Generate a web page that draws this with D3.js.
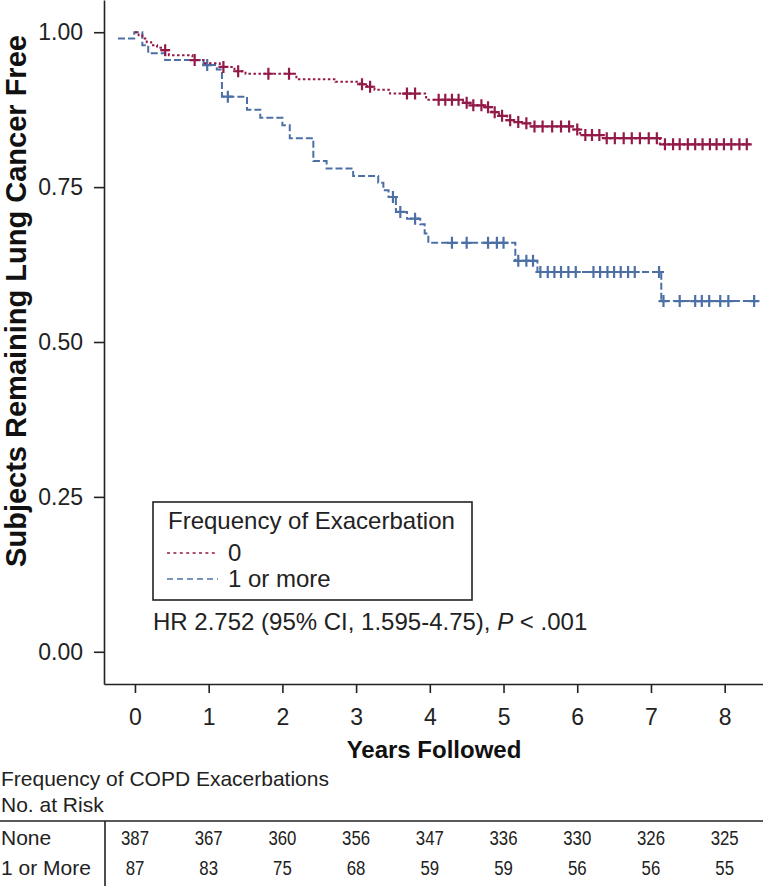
<!DOCTYPE html>
<html>
<head>
<meta charset="utf-8">
<script src="https://cdn.jsdelivr.net/npm/d3@7"></script>
<style>
  body { margin: 0; background: #fff; }
  svg { display: block; font-family: "Liberation Sans", Arial, Helvetica, sans-serif; }
</style>
</head>
<body>
<svg id="chart"></svg>
<script>
// tick values
const yearTicks = [0, 1, 2, 3, 4, 5, 6, 7, 8];
const survTicks = [0, 0.25, 0.5, 0.75, 1];

// "0" exacerbations: step points [time, survival], last value runs to noneEnd
const noneSteps = [
  [0, 1.0], [0.05, 0.995], [0.1, 0.99], [0.16, 0.984], [0.22, 0.979], [0.3, 0.975],
  [0.37, 0.971], [0.46, 0.963], [0.78, 0.955], [0.95, 0.95], [1.15, 0.944], [1.35, 0.937],
  [1.5, 0.933], [2.19, 0.924], [2.72, 0.92], [3.05, 0.916], [3.15, 0.912], [3.25, 0.907],
  [3.46, 0.901], [3.95, 0.891], [4.45, 0.886], [4.55, 0.882], [4.75, 0.879], [4.84, 0.871],
  [4.94, 0.865], [5.05, 0.858], [5.16, 0.855], [5.27, 0.853], [5.36, 0.848], [5.95, 0.843],
  [6.04, 0.834], [6.36, 0.829], [7.12, 0.819]
];
const noneEnd = 8.35;
const noneCensor = [0.41, 0.81, 1.2, 1.4, 1.81, 2.09, 3.08, 3.19, 3.69, 3.8, 4.12, 4.21, 4.3, 4.39,
  4.5, 4.59, 4.7, 4.79, 4.88, 4.98, 5.09, 5.2, 5.31, 5.42, 5.53, 5.66, 5.78, 5.89, 6.0, 6.11, 6.2,
  6.3, 6.4, 6.51, 6.63, 6.74, 6.85, 6.97, 7.08, 7.19, 7.3, 7.39, 7.5, 7.6, 7.7, 7.8, 7.89, 7.99,
  8.09, 8.2, 8.3];

// "1 or more" exacerbations
const moreSteps = [
  [-0.23, 0.99], [-0.01, 1.0], [0.1, 0.979], [0.18, 0.966], [0.41, 0.955], [0.93, 0.947],
  [1.11, 0.94], [1.18, 0.896], [1.52, 0.875], [1.7, 0.862], [2.0, 0.85], [2.1, 0.829],
  [2.42, 0.792], [2.6, 0.78], [2.96, 0.768], [3.3, 0.757], [3.37, 0.745], [3.44, 0.734],
  [3.54, 0.71], [3.69, 0.699], [3.87, 0.69], [3.93, 0.675], [3.98, 0.66], [5.16, 0.631],
  [5.46, 0.613], [7.14, 0.566]
];
const moreEnd = 8.47;
const moreCensor = [0.98, 1.26, 3.5, 3.6, 3.8, 4.3, 4.5, 4.79, 4.91, 5.0, 5.2, 5.31, 5.4, 5.5,
  5.6, 5.69, 5.78, 5.88, 5.98, 6.22, 6.31, 6.41, 6.5, 6.59, 6.69, 6.78, 7.11, 7.17, 7.39, 7.6,
  7.69, 7.79, 7.94, 8.05, 8.4];

// number at risk
const riskGroups = ["None", "1 or More"];
const riskNone = [387, 367, 360, 356, 347, 336, 330, 326, 325];
const riskMore = [87, 83, 75, 68, 59, 59, 56, 56, 55];

const width = 763, height = 886;
const red = "#931a48", blue = "#4c70a6", ink = "#222";

const svg = d3.select("#chart").attr("width", width).attr("height", height);

const x = d3.scaleLinear([-0.42, 8.52], [104, 763]);
const y = d3.scaleLinear([-0.052, 1.052], [684, 0]);

// axes
svg.append("g")
    .attr("transform", "translate(104,0)")
    .call(d3.axisLeft(y).tickValues(survTicks).tickFormat(d3.format(".2f"))
      .tickSize(10).tickSizeOuter(0).tickPadding(11))
    .call(g => g.selectAll("path,line").attr("stroke", ink).attr("stroke-width", 1.6))
    .call(g => g.selectAll("text").attr("font-size", 23).attr("fill", ink).attr("font-family", null));

svg.append("g")
    .attr("transform", "translate(0,684)")
    .call(d3.axisBottom(x).tickValues(yearTicks).tickFormat(d3.format("d"))
      .tickSize(9).tickSizeOuter(0).tickPadding(16))
    .call(g => g.selectAll("path,line").attr("stroke", ink).attr("stroke-width", 1.6))
    .call(g => g.selectAll("text").attr("font-size", 23).attr("fill", ink).attr("font-family", null));

svg.append("text")
    .attr("transform", "translate(26,301) rotate(-90)")
    .attr("text-anchor", "middle")
    .attr("font-size", 29).attr("font-weight", "bold").attr("fill", "#111")
    .text("Subjects Remaining Lung Cancer Free");

svg.append("text")
    .attr("x", 434).attr("y", 758)
    .attr("text-anchor", "middle")
    .attr("font-size", 24).attr("font-weight", "bold").attr("fill", "#111")
    .text("Years Followed");

// survival curves
function stepValue(steps, t) {
  let v = steps[0][1];
  for (const s of steps) if (s[0] <= t) v = s[1];
  return v;
}
const line = d3.line().x(d => x(d[0])).y(d => y(d[1])).curve(d3.curveStepAfter);

function drawCurve(steps, end, censor, color, dash) {
  const pts = steps.concat([[end, steps[steps.length - 1][1]]]);
  svg.append("path")
      .attr("d", line(pts))
      .attr("fill", "none")
      .attr("stroke", color)
      .attr("stroke-width", 2)
      .attr("stroke-dasharray", dash);
  svg.append("g")
      .attr("stroke", color)
      .attr("stroke-width", 2.2)
    .selectAll("path")
    .data(censor)
    .join("path")
      .attr("d", t => {
        const cx = x(t), cy = y(stepValue(steps, t));
        return `M${cx - 5},${cy}H${cx + 5}M${cx},${cy - 6}V${cy + 6}`;
      });
}
drawCurve(moreSteps, moreEnd, moreCensor, blue, "7,3");
drawCurve(noneSteps, noneEnd, noneCensor, red, "2.5,2.5");

// legend
const leg = svg.append("g");
leg.append("rect")
    .attr("x", 153).attr("y", 502).attr("width", 319).attr("height", 98)
    .attr("fill", "#fff").attr("stroke", ink).attr("stroke-width", 1.6);
leg.append("text").attr("x", 168).attr("y", 529).attr("font-size", 24).attr("fill", ink)
    .text("Frequency of Exacerbation");
[["0", red, "3,3.4"], ["1 or more", blue, "6,4"]].forEach((d, i) => {
  const ly = 553 + i * 26;
  leg.append("line").attr("x1", 167).attr("x2", 218).attr("y1", ly).attr("y2", ly)
      .attr("stroke", d[1]).attr("stroke-width", 1.6).attr("stroke-dasharray", d[2]);
  leg.append("text").attr("x", 228).attr("y", ly + 8).attr("font-size", 24).attr("fill", ink)
      .text(d[0]);
});

const hr = svg.append("text").attr("x", 153).attr("y", 630).attr("font-size", 24).attr("fill", ink);
hr.append("tspan").text("HR 2.752 (95% CI, 1.595-4.75), ");
hr.append("tspan").attr("font-style", "italic").text("P");
hr.append("tspan").text(" < .001");

// number at risk table
svg.append("text").attr("x", 1).attr("y", 786).attr("font-size", 21).attr("fill", ink)
    .text("Frequency of COPD Exacerbations");
svg.append("text").attr("x", 1).attr("y", 812).attr("font-size", 21).attr("fill", ink)
    .text("No. at Risk");
svg.append("line").attr("x1", 0).attr("x2", width).attr("y1", 821).attr("y2", 821)
    .attr("stroke", ink).attr("stroke-width", 1.6);
svg.append("line").attr("x1", 105).attr("x2", 105).attr("y1", 821).attr("y2", height)
    .attr("stroke", ink).attr("stroke-width", 1.6);

[riskNone, riskMore].forEach((row, r) => {
  const by = 845 + r * 30;
  svg.append("text").attr("x", 1).attr("y", by).attr("font-size", 21).attr("fill", ink)
      .text(riskGroups[r]);
  svg.append("g")
    .selectAll("text")
    .data(row)
    .join("text")
      .attr("transform", (d, i) => `translate(${x(yearTicks[i])},${by}) scale(0.8,1)`)
      .attr("text-anchor", "middle")
      .attr("font-size", 21)
      .attr("fill", ink)
      .text(d => d);
});
</script>
</body>
</html>
